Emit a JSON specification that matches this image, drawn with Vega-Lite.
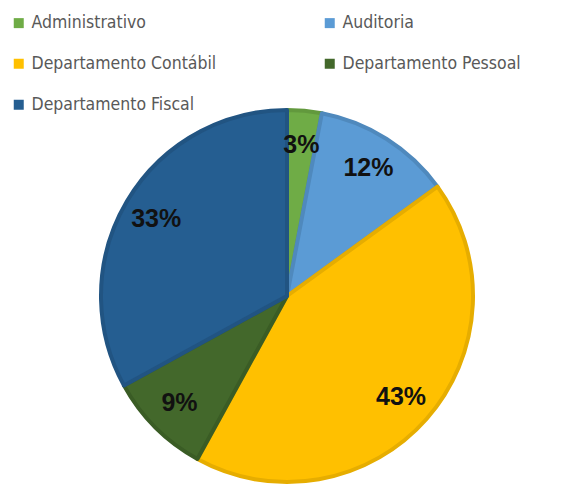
{
  "$schema": "https://vega.github.io/schema/vega-lite/v6.json",
  "width": 574,
  "height": 384,
  "autosize": "none",
  "padding": {"left": 0, "top": 104, "right": 5, "bottom": 0},
  "background": "white",
  "config": {"view": {"stroke": null}},
  "data": {
    "values": [
      {"cat": "Administrativo", "value": 3, "ord": 1, "label": "3%"},
      {"cat": "Auditoria", "value": 12, "ord": 2, "label": "12%"},
      {"cat": "Departamento Contábil", "value": 43, "ord": 3, "label": "43%"},
      {"cat": "Departamento Pessoal", "value": 9, "ord": 4, "label": "9%"},
      {"cat": "Departamento Fiscal", "value": 33, "ord": 5, "label": "33%"}
    ]
  },
  "encoding": {
    "theta": {"field": "value", "type": "quantitative", "stack": true},
    "order": {"field": "ord", "type": "quantitative"}
  },
  "layer": [
    {
      "mark": {"type": "arc", "outerRadius": 186, "strokeWidth": 4, "strokeJoin": "round"},
      "encoding": {
        "color": {
          "field": "cat",
          "type": "nominal",
          "scale": {
            "domain": ["Administrativo", "Auditoria", "Departamento Contábil", "Departamento Pessoal", "Departamento Fiscal"],
            "range": ["#6FAC46", "#5B9BD5", "#FFC000", "#43682B", "#255E91"]
          },
          "legend": {
            "title": null,
            "orient": "none",
            "legendX": 10,
            "legendY": -90,
            "direction": "horizontal",
            "columns": 2,
            "columnPadding": 104,
            "rowPadding": 22,
            "symbolType": "square",
            "symbolSize": 100,
            "symbolStrokeWidth": 0,
            "labelFont": "DejaVu Sans Condensed, Liberation Sans",
            "labelFontSize": 17.5,
            "labelColor": "#595959",
            "labelOffset": 4,
            "labelLimit": 400
          }
        },
        "stroke": {
          "field": "cat",
          "type": "nominal",
          "scale": {
            "domain": ["Administrativo", "Auditoria", "Departamento Contábil", "Departamento Pessoal", "Departamento Fiscal"],
            "range": ["#62993D", "#4F89BD", "#E6AD00", "#3A5C25", "#215482"]
          },
          "legend": null
        }
      }
    },
    {
      "mark": {"type": "text", "radius": 152, "font": "Liberation Sans", "fontWeight": "bold", "fontSize": 25, "color": "#111111"},
      "encoding": {
        "text": {"field": "label", "type": "nominal"}
      }
    }
  ]
}
